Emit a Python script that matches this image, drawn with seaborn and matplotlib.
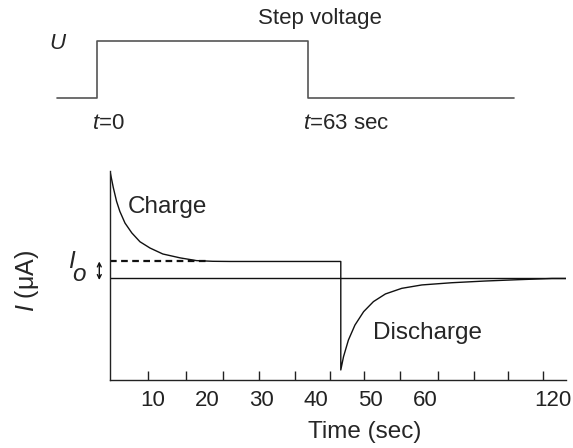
import numpy as np
import pandas as pd
import matplotlib
matplotlib.use("Agg")
import matplotlib.pyplot as plt
import seaborn as sns

# Step voltage (schematic, display time units)
u_time = [-7.6, -0.2, -0.2, 38.5, 38.5, 76.4]
u_level = [0, 0, 1, 1, 0, 0]

# Current trace: charge decay, plateau, discharge recovery
charge_t = [2.1, 2.7, 3.3, 3.9, 4.85, 6.1, 7.6, 9.45, 11.8, 15.0, 18.0, 21.0, 24.2, 44.5]
charge_i = [6.3, 5.35, 4.54, 3.95, 3.26, 2.68, 2.16, 1.79, 1.44, 1.21, 1.05, 1.01, 1.0, 1.0]
discharge_t = [44.5, 44.5, 45.0, 45.9, 47.1, 48.7, 50.5, 52.7, 55.7, 59.4, 64.9, 71.0, 77.2, 83.3, 85.9]
discharge_i = [1.0, -5.38, -4.6, -3.62, -2.74, -1.95, -1.36, -0.91, -0.58, -0.38, -0.25, -0.15, -0.07, 0.0, 0.0]
i_o = 1.0

# x axis: labels and tick marks (schematic, not evenly matched)
label_pos = [10, 20, 30, 40, 50, 60, 83.5]
tick_labels = ["10", "20", "30", "40", "50", "60", "120"]
tick_pos = [9.1, 16.1, 22.9, 29.5, 36.1, 42.5, 48.7, 55.3, 62.3, 68.9, 75.2, 81.6]

sns.set_theme(style="white")
plt.rcParams["font.family"] = ["Liberation Sans", "DejaVu Sans"]
plt.rcParams["mathtext.fontset"] = "custom"
plt.rcParams["mathtext.rm"] = "Liberation Sans"
plt.rcParams["mathtext.it"] = "Liberation Sans:italic"
plt.rcParams["font.size"] = 16

fig = plt.figure(figsize=(5.73, 4.48), dpi=100)
xlim = (2.1, 85.9)

# Top panel: step voltage
ax_u = fig.add_axes([0.192, 0.78125, 0.796, 0.127])
sns.lineplot(x=u_time, y=u_level, sort=False, estimator=None, ax=ax_u,
             color="#555555", lw=1.2)
for ln in ax_u.lines:
    ln.set_clip_on(False)
ax_u.set_xlim(xlim)
ax_u.set_ylim(0, 1)
ax_u.axis("off")
ax_u.text(-7.65, 0.95, "U", fontsize=16, style="italic", ha="center", va="center")
ax_u.text(40.7, 1.40, "Step voltage", fontsize=16, ha="center", va="center")
ax_u.text(-1.27, -0.44, "$t$=0", fontsize=16, ha="left", va="center")
ax_u.text(37.6, -0.44, "$t$=63 sec", fontsize=16, ha="left", va="center")

# Bottom panel: current
ax = fig.add_axes([0.192, 0.1518, 0.796, 0.4665])
trace = pd.DataFrame({"t": charge_t + discharge_t, "i": charge_i + discharge_i})
sns.lineplot(data=trace, x="t", y="i", sort=False, estimator=None, ax=ax,
             color="#111111", lw=1.0)
ax.axhline(0, color="#111111", lw=1.0)
ax.plot([xlim[0], 20.5], [i_o, i_o], color="#111111", lw=1.6, ls=(0, (3, 2)))
ax.annotate("", xy=(0.13, i_o), xytext=(0.13, -0.09), xycoords="data",
            annotation_clip=False,
            arrowprops=dict(arrowstyle="<->", color="#111111", lw=1.0,
                            mutation_scale=7, shrinkA=0, shrinkB=0))

ax.set_xlim(xlim)
ax.set_ylim(-5.97, 6.32)
for side in ["top", "right"]:
    ax.spines[side].set_visible(False)
for side in ["left", "bottom"]:
    ax.spines[side].set_color("#222222")
    ax.spines[side].set_linewidth(1.0)

ax.set_xticks(label_pos, tick_labels)
ax.set_xticks(tick_pos, minor=True)
ax.tick_params(axis="x", which="major", length=0, pad=7, labelsize=16, colors="#222222")
ax.tick_params(axis="x", which="minor", direction="in", length=6.5, width=1.0,
               color="#222222", bottom=True)
ax.set_yticks([])
ax.set_xlabel("")
ax.set_ylabel("")

ax.text(5.4, 4.2, "Charge", fontsize=17.5, ha="left", va="center")
ax.text(50.4, -3.2, "Discharge", fontsize=17.5, ha="left", va="center")
ax.text(-4.98, 1.0, "I", fontsize=17.5, style="italic", ha="center", va="center")
ax.text(-3.55, 0.26, "o", fontsize=17.5, style="italic", ha="center", va="center")
ax.text(-0.181, 0.474, "$I$ (μA)", fontsize=18, rotation=90, ha="center", va="center",
        transform=ax.transAxes)
ax.text(0.559, -0.249, "Time (sec)", fontsize=17.5, ha="center", va="center",
        transform=ax.transAxes)

fig.savefig("out.png", dpi=100)
